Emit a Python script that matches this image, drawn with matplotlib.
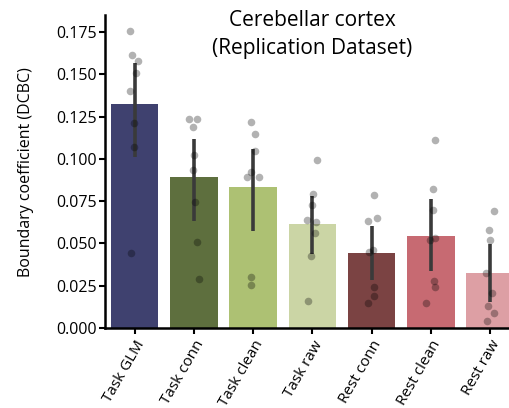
import numpy as np
import matplotlib
matplotlib.use("Agg")
import matplotlib.pyplot as plt

plt.rcParams['font.family'] = ['Open Sans', 'DejaVu Sans']

# --- data ---
categories = ["Task GLM", "Task conn", "Task clean", "Task raw",
              "Rest conn", "Rest clean", "Rest raw"]
colors = ["#3f416f", "#5e6f3e", "#adc173", "#cbd5a5",
          "#7b4343", "#c76a72", "#dd9fa4"]

task_glm = [0.1757, 0.1617, 0.1579, 0.1505, 0.1399, 0.1213, 0.1071, 0.0442]
task_conn = [0.1237, 0.1233, 0.1190, 0.1024, 0.0936, 0.0743, 0.0506, 0.0290]
task_clean = [0.1216, 0.1145, 0.1044, 0.0924, 0.0894, 0.0894, 0.0300, 0.0254]
task_raw = [0.0991, 0.0790, 0.0729, 0.0628, 0.0637, 0.0561, 0.0427, 0.0158]
rest_conn = [0.0788, 0.0652, 0.0634, 0.0461, 0.0447, 0.0244, 0.0191, 0.0146]
rest_clean = [0.1111, 0.0822, 0.0697, 0.0530, 0.0520, 0.0278, 0.0244, 0.0146]
rest_raw = [0.0691, 0.0581, 0.0518, 0.0327, 0.0205, 0.0132, 0.0087, 0.0040]
subjects = [task_glm, task_conn, task_clean, task_raw, rest_conn, rest_clean, rest_raw]

# confidence interval ends (as drawn)
ci_lo = [0.1009, 0.0632, 0.0575, 0.0437, 0.0284, 0.0335, 0.0154]
ci_hi = [0.1564, 0.1117, 0.1056, 0.0780, 0.0605, 0.0764, 0.0498]

means = [np.mean(s) for s in subjects]
x = np.arange(len(categories))

fig = plt.figure(figsize=(5.1, 4.08), dpi=100)
ax = fig.add_axes([0.206, 0.196, 1.019 - 0.206, 0.963 - 0.196])

ax.bar(x, means, width=0.8, color=colors, zorder=1)
ax.vlines(x, ci_lo, ci_hi, color="#3a3a3a", lw=2.6, zorder=3)

rng = np.random.default_rng(3)
for i, s in enumerate(subjects):
    jit = rng.uniform(-0.1, 0.1, len(s))
    ax.scatter(i + jit, s, s=30, color="k", alpha=0.3, lw=0, zorder=4)

ax.set_xlim(-0.5, 6.5)
ax.set_ylim(0, 0.185)
ax.set_yticks(np.arange(0, 0.176, 0.025))
ax.set_yticklabels([f"{v:.3f}" for v in np.arange(0, 0.176, 0.025)])
ax.set_xticks(x)
ax.set_xticklabels(categories, rotation=60, ha="right", rotation_mode="anchor")
ax.tick_params(axis="y", labelsize=11.5, width=1.5, length=4, pad=2)
ax.tick_params(axis="x", labelsize=11, width=1.5, length=4, pad=3)
ax.set_ylabel("Boundary coefficient (DCBC)", fontsize=11.5, labelpad=16)

for side in ["top", "right"]:
    ax.spines[side].set_visible(False)
for side in ["left", "bottom"]:
    ax.spines[side].set_linewidth(1.8)

fig.text(0.612, 0.975, "Cerebellar cortex\n(Replication Dataset)",
         ha="center", va="top", fontsize=15, linespacing=1.4)

fig.savefig("out.png", dpi=100)
